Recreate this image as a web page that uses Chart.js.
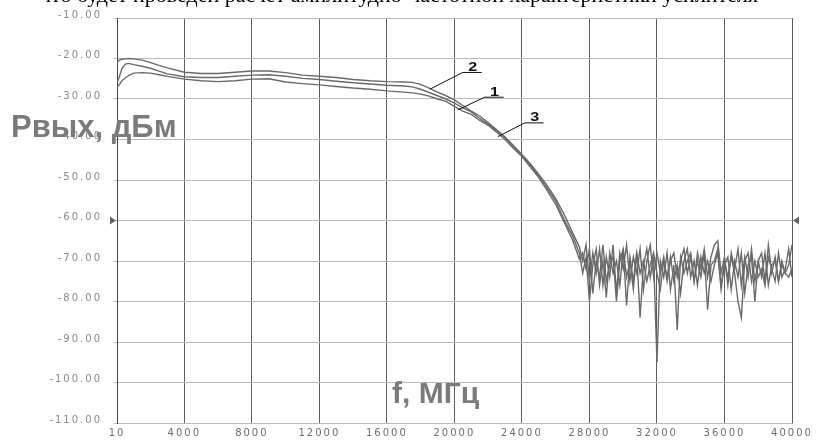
<!DOCTYPE html>
<html>
<head>
<meta charset="utf-8">
<script src="https://cdn.jsdelivr.net/npm/chart.js@4.4.0/dist/chart.umd.min.js"></script>
<style>
html, body { margin: 0; background: #fff; }
canvas { display: block; }
</style>
</head>
<body>
<canvas id="myChart" width="818" height="441"></canvas>
<script>
// frequency, MHz
const freqSmooth = [10, 150, 300, 500, 700, 1000, 1500, 2000, 2500, 3000,
    4000, 5000, 6000, 7000, 8000, 9000, 10000, 11000, 12000, 13000,
    14000, 15000, 16000, 17000, 17500, 18000, 18500, 19000, 19500, 20000,
    20500, 21000, 21500, 22000, 22500, 23000, 23500, 24000, 24500, 25000,
    25500, 26000, 26500, 27000, 27400]
const freqNoise = [27600, 27800, 28000, 28200, 28400, 28600, 28800, 29000, 29200, 29400,
    29600, 29800, 30000, 30200, 30400, 30600, 30800, 31000, 31200, 31400,
    31600, 31800, 32000, 32200, 32400, 32600, 32800, 33000, 33200, 33400,
    33600, 33800, 34000, 34200, 34400, 34600, 34800, 35000, 35200, 35400,
    35600, 35800, 36000, 36200, 36400, 36600, 36800, 37000, 37200, 37400,
    37600, 37800, 38000, 38200, 38400, 38600, 38800, 39000, 39200, 39400,
    39600, 39800, 40000]

// Pвых, dBm  (curve 2 = top, curve 1 = middle, curve 3 = bottom)
const curve2Smooth = [-21.0, -20.4, -20.2, -20.1, -20.0, -20.1, -20.4, -21.0, -21.7, -22.3,
    -23.4, -23.7, -23.7, -23.4, -23.1, -23.1, -23.5, -24.1, -24.4, -24.7,
    -25.2, -25.5, -25.7, -25.8, -25.9, -26.4, -27.3, -28.3, -29.2, -30.2,
    -31.6, -33.0, -34.2, -35.8, -37.6, -39.4, -41.5, -43.7, -46.0, -48.6,
    -51.4, -54.6, -58.5, -63.0, -66.5]
const curve2Noise = [-70, -66, -75, -68, -73, -67, -76, -69, -74, -66,
    -78, -68, -72, -66, -75, -69, -73, -67, -77, -70,
    -66, -74, -68, -73, -69, -75, -70, -68, -74, -70,
    -67, -73, -69, -75, -68, -72, -67, -74, -69, -66,
    -65, -73, -69, -76, -68, -72, -67, -76, -69, -74,
    -67, -75, -70, -68, -75, -66, -73, -69, -75, -70,
    -73, -71, -66]

const curve1Smooth = [-26.0, -24.5, -22.5, -21.4, -21.2, -21.5, -21.9, -22.4, -23.1, -23.8,
    -24.5, -24.7, -24.7, -24.4, -24.1, -24.0, -24.4, -24.9, -25.2, -25.6,
    -26.0, -26.3, -26.6, -26.8, -27.0, -27.6, -28.4, -29.2, -30.0, -31.0,
    -32.2, -33.2, -34.8, -36.2, -37.8, -39.5, -41.8, -43.9, -46.3, -49.0,
    -52.0, -55.2, -59.8, -63.8, -68.0]
const curve1Noise = [-73, -69, -80, -71, -67, -76, -70, -79, -68, -73,
    -70, -76, -67, -81, -69, -75, -68, -84, -71, -67,
    -74, -69, -95, -70, -74, -68, -77, -71, -87, -69,
    -73, -70, -68, -75, -70, -74, -68, -82, -71, -70,
    -67, -76, -71, -69, -77, -70, -74, -68, -78, -71,
    -69, -80, -70, -74, -68, -76, -71, -70, -75, -71,
    -73, -74, -72]

const curve3Smooth = [-27.0, -26.5, -25.5, -24.8, -24.2, -23.6, -23.5, -23.6, -24.0, -24.4,
    -25.1, -25.5, -25.7, -25.5, -25.1, -25.0, -25.8, -26.2, -26.5, -26.9,
    -27.3, -27.6, -28.0, -28.3, -28.5, -28.8, -29.3, -30.0, -30.6, -31.8,
    -33.0, -33.8, -35.3, -36.5, -38.2, -40.0, -42.2, -44.2, -46.8, -49.4,
    -52.6, -56.0, -60.4, -64.8, -69.5]
const curve3Noise = [-68, -72, -67, -78, -70, -74, -66, -75, -71, -69,
    -80, -70, -67, -74, -70, -77, -68, -73, -70, -75,
    -71, -68, -73, -77, -70, -74, -69, -75, -71, -78,
    -70, -67, -74, -70, -76, -69, -73, -70, -75, -71,
    -68, -77, -70, -74, -69, -73, -80, -84, -70, -68,
    -75, -70, -74, -72, -76, -69, -72, -75, -68, -74,
    -72, -67, -74]

const xTicks = [10, 4000, 8000, 12000, 16000, 20000, 24000, 28000, 32000, 36000, 40000]

// curve labels: text anchor and pointer end, in data units
const curveLabels = ["2", "1", "3"]
const labelF = [20490, 21790, 24160]
const labelDb = [-23.45, -29.56, -35.9]
const pointerF = [18540, 20200, 22570]
const pointerDb = [-27.6, -32.7, -39.3]
const markerDb = -60

const freq = freqSmooth.concat(freqNoise)

function toPoints(smooth, noise) {
    let vals = smooth.concat(noise)
    return vals.map((v, i) => ({x: freq[i], y: v}))
}

const decor = {
    id: "decor",
    beforeDraw(chart) {
        chart.ctx.letterSpacing = "2px"
    },
    afterDraw(chart) {
        let ctx = chart.ctx
        let xs = chart.scales.x
        let ys = chart.scales.y
        ctx.save()
        ctx.letterSpacing = "0px"

        // side markers
        let my = ys.getPixelForValue(markerDb)
        ctx.fillStyle = "#666"
        ctx.beginPath()
        ctx.moveTo(xs.left - 7, my - 4)
        ctx.lineTo(xs.left - 7, my + 4)
        ctx.lineTo(xs.left - 1, my)
        ctx.fill()
        ctx.beginPath()
        ctx.moveTo(xs.right + 7, my - 4)
        ctx.lineTo(xs.right + 7, my + 4)
        ctx.lineTo(xs.right + 1, my)
        ctx.fill()

        // numbered leaders
        ctx.strokeStyle = "#111"
        ctx.fillStyle = "#111"
        ctx.lineWidth = 1
        ctx.font = "bold 12px 'Liberation Sans'"
        ctx.textAlign = "center"
        ctx.textBaseline = "alphabetic"
        for (let i = 0; i < curveLabels.length; i++) {
            let lx = xs.getPixelForValue(labelF[i])
            let ly = ys.getPixelForValue(labelDb[i])
            let px = xs.getPixelForValue(pointerF[i])
            let py = ys.getPixelForValue(pointerDb[i])
            ctx.beginPath()
            ctx.moveTo(px, py)
            ctx.lineTo(lx, ly)
            ctx.lineTo(lx + 19, ly)
            ctx.stroke()
            ctx.save()
            ctx.translate(lx + 10, ly - 1.5)
            ctx.scale(1.35, 1)
            ctx.fillText(curveLabels[i], 0, 0)
            ctx.restore()
        }

        // axis titles
        ctx.fillStyle = "#7b7b7b"
        ctx.textAlign = "left"
        ctx.font = "bold 31px 'Liberation Sans'"
        ctx.fillText("Рвых, дБм", 11, 137)
        ctx.font = "bold 30px 'Liberation Sans'"
        ctx.fillText("f, МГц", 392, 403)

        // cut-off text line above the figure
        ctx.fillStyle = "#000"
        ctx.font = "22px 'Liberation Serif'"
        ctx.fillText("что будет проведен расчет амплитудно-частотной характеристики усилителя", 40, 2)
        ctx.restore()
    }
}

function createChart() {
    let htmlChart = document.getElementById("myChart")
    let lineStyle = {
        borderColor: "#6a6a6a",
        borderWidth: 1.4,
        pointRadius: 0,
        tension: 0,
        fill: false
    }
    new Chart(htmlChart, {
        type: "line",
        data: {
            datasets: [
                Object.assign({label: "2", data: toPoints(curve2Smooth, curve2Noise)}, lineStyle),
                Object.assign({label: "1", data: toPoints(curve1Smooth, curve1Noise)}, lineStyle),
                Object.assign({label: "3", data: toPoints(curve3Smooth, curve3Noise)}, lineStyle)
            ]
        },
        plugins: [decor],
        options: {
            responsive: false,
            animation: false,
            layout: {padding: {top: 18, right: 26, left: 0, bottom: 0}},
            plugins: {
                legend: {display: false},
                tooltip: {enabled: false}
            },
            scales: {
                x: {
                    type: "linear",
                    min: 10,
                    max: 40000,
                    afterBuildTicks: (scale) => { scale.ticks = xTicks.map(v => ({value: v})) },
                    afterFit: (scale) => { scale.height = 14 },
                    grid: {color: "#5e5e5e", lineWidth: 1, drawTicks: false},
                    border: {color: "#b8b8b8"},
                    ticks: {
                        color: "#6e6e6e",
                        font: {family: "'DejaVu Sans'", size: 10},
                        padding: 4,
                        maxRotation: 0,
                        autoSkip: false,
                        callback: (v) => String(v)
                    }
                },
                y: {
                    min: -110,
                    max: -10,
                    afterFit: (scale) => { scale.width = 117 },
                    grid: {color: "#b8b8b8", lineWidth: 1, tickLength: 3},
                    border: {color: "#444"},
                    ticks: {
                        stepSize: 10,
                        color: "#8a8a8a",
                        font: {family: "'DejaVu Sans'", size: 10},
                        padding: 12,
                        labelOffset: -3,
                        callback: (v) => v.toFixed(2)
                    }
                }
            }
        }
    })
}

createChart()
</script>
</body>
</html>
